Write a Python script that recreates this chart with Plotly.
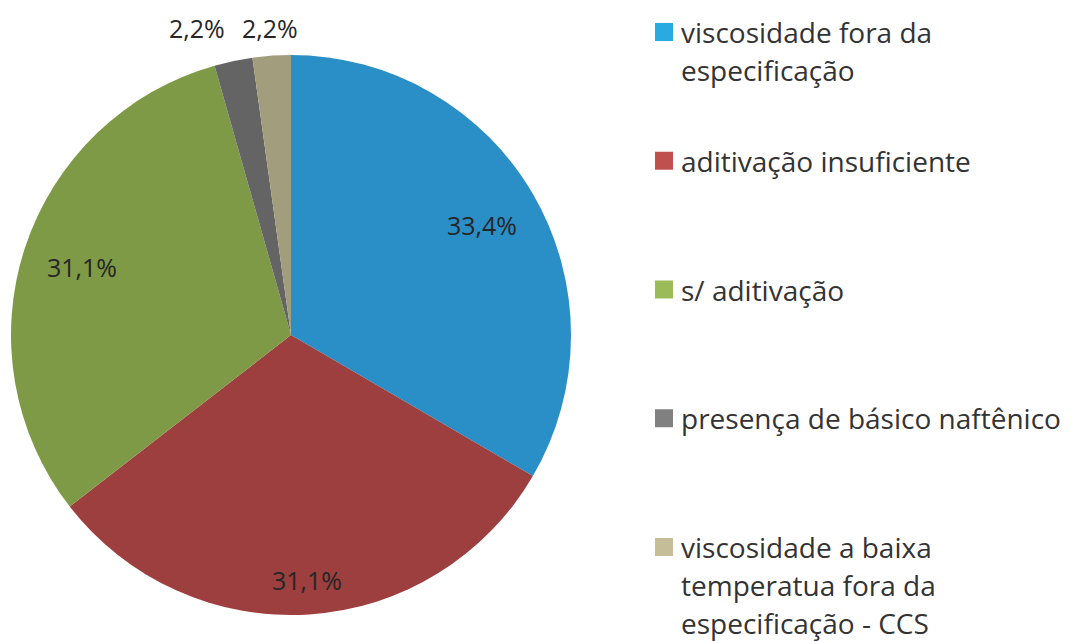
import math
import plotly.graph_objects as go

labels = ["viscosidade fora da<br>especificação",
          "aditivação insuficiente",
          "s/ aditivação",
          "presença de básico naftênico",
          "viscosidade a baixa<br>temperatua fora da<br>especificação - CCS"]
values = [33.4, 31.1, 31.1, 2.2, 2.2]
pie_colors = ["#2b8fc7", "#9c3f3e", "#7e9a47", "#646464", "#a19d7d"]
legend_colors = ["#29abe2", "#c0504d", "#9bbb59", "#808080", "#c4bd97"]
label_outside = [False, False, False, True, True]

PAGE_W, PAGE_H = 1071, 641
OFF = 8                      # default page body margin
W, H = PAGE_W - OFF, PAGE_H - OFF
CX, CY, R = 291, 335, 280   # pie centre / radius in page pixels


def px(x):
    return (x - OFF) / W


def py(y):
    return 1 - (y - OFF) / H


fig = go.Figure(go.Pie(
    labels=[l.replace("<br>", " ") for l in labels],
    values=values,
    sort=False,
    direction="clockwise",
    rotation=0,
    marker=dict(colors=pie_colors, line=dict(width=0)),
    textinfo="none",
    domain=dict(x=[px(CX - R), px(CX + R)], y=[py(CY + R), py(CY - R)]),
    showlegend=False,
    hoverinfo="label+percent",
))

annotations = []
label_font = dict(family="Open Sans", size=25, color="#262626")
half_w, half_h = 38, 11
total = sum(values)
cum = 0.0
placed = []
for v, outside in zip(values, label_outside):
    mid = (cum + v / 2) / total * 2 * math.pi
    cum += v
    dx, dy = math.sin(mid), -math.cos(mid)
    extent = half_w * abs(dx) + half_h * abs(dy)
    if outside:
        r = R + extent + 14
    else:
        r = 259 - extent
    placed.append([CX + dx * r, CY + dy * r, outside])

# resolve overlap of neighbouring outside labels (shift earlier one left)
for i in range(len(placed) - 2, -1, -1):
    a, b = placed[i], placed[i + 1]
    if a[2] and b[2] and abs(a[1] - b[1]) < 2 * half_h and b[0] - a[0] < 2 * half_w - 3:
        a[0] = b[0] - (2 * half_w - 3)
        a[1] = b[1]

for v, (x, y, _) in zip(values, placed):
    annotations.append(dict(xref="paper", yref="paper", x=px(x), y=py(y),
                            xanchor="center", yanchor="middle",
                            text=f"{v:.1f}%".replace(".", ","), showarrow=False,
                            font=label_font))

shapes = []
sq = 18
x_sq = 655
x_txt = 679
y0 = 32
step = 128.75
line_h = 38
for i, (lab, col) in enumerate(zip(labels, legend_colors)):
    yc = y0 + i * step
    shapes.append(dict(type="rect", xref="paper", yref="paper",
                       x0=px(x_sq), x1=px(x_sq + sq),
                       y0=py(yc + sq / 2), y1=py(yc - sq / 2),
                       fillcolor=col, line=dict(width=0)))
    for j, line in enumerate(lab.split("<br>")):
        annotations.append(dict(xref="paper", yref="paper",
                                x=px(x_txt), y=py(yc + j * line_h),
                                xanchor="left", yanchor="middle",
                                text=line, showarrow=False,
                                font=dict(family="Open Sans", size=28, color="#333333")))

fig.update_layout(
    width=W, height=H,
    margin=dict(l=0, r=0, t=0, b=0),
    paper_bgcolor="white",
    plot_bgcolor="white",
    separators=",.",
    shapes=shapes,
    annotations=annotations,
)

fig.write_html("out.html")
